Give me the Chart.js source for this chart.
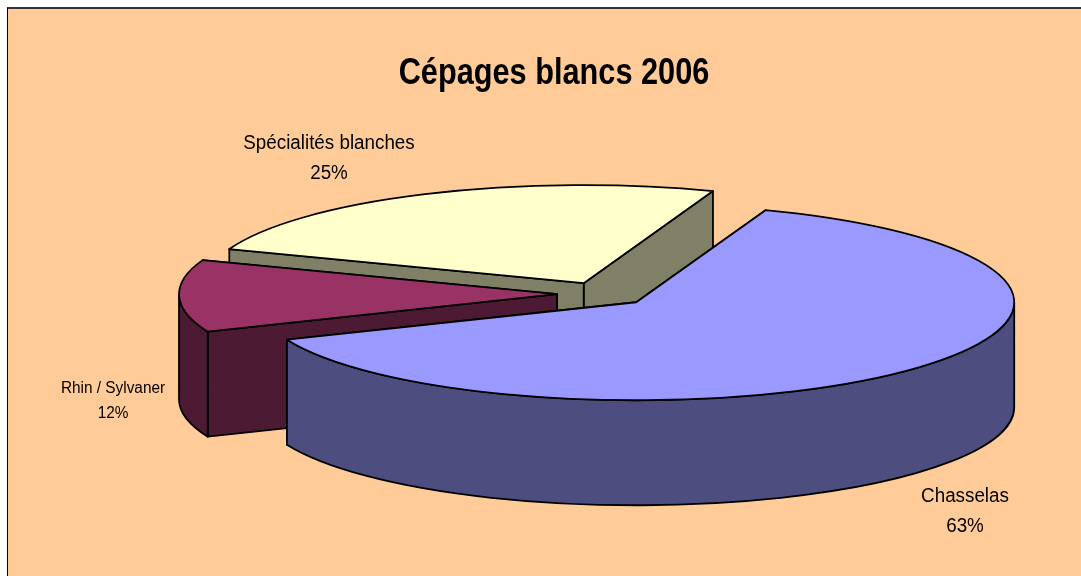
<!DOCTYPE html>
<html>
<head>
<meta charset="utf-8">
<title>Cépages blancs 2006</title>
<script src="https://cdn.jsdelivr.net/npm/chart.js@4"></script>
<style>
  html, body { margin: 0; padding: 0; background: #fff; overflow: hidden; }
  #frame {
    position: absolute; left: 7px; top: 7px; right: 0; bottom: 0;
    background: #FFCC99; border-left: 1px solid #000; border-top: 2px solid #333;
  }
  #wrap { position: absolute; left: 0; top: 0; width: 1081px; height: 576px; }
</style>
</head>
<body>
<div id="frame"></div>
<div id="wrap"><canvas id="myChart" width="1081" height="576"></canvas></div>
<script>
const categories = ["Chasselas", "Rhin / Sylvaner", "Spécialités blanches"];
// labels in the picture are rounded, slice sizes read a little finer from the edges
const shares = [63.2, 11.9, 24.9];
const topColors = ["#9999FF", "#993366", "#FFFFCC"];
const wallColors = ["#4D4D80", "#4D1A33", "#808066"];
const chartTitle = "Cépages blancs 2006";

// where the flattened pie sits in the picture
const pie = { x: 603, y: 294, rx: 378, ry: 98, depth: 105, explode: 46 };
// back to front, each slice paints over the one before
const paintOrder = [2, 1, 0];
// label anchor (centre of the first line), font size, line gap, width squeeze
const labelSpots = [
  { x: 965, y: 496, size: 20, gap: 30, squeeze: 0.94 },
  { x: 113, y: 389, size: 16, gap: 25, squeeze: 0.96 },
  { x: 329, y: 143, size: 20, gap: 30, squeeze: 0.94 }
];
const titleSpot = { x: 554, y: 74, size: 37, squeeze: 0.83 };

function sliceCentre(arc) {
  const mid = (arc.startAngle + arc.endAngle) / 2;
  return {
    x: pie.x + Math.cos(mid) * pie.explode,
    y: pie.y + Math.sin(mid) * pie.explode * pie.ry / pie.rx
  };
}

function drawWalls(ctx, arc, c, wall) {
  const a0 = arc.startAngle, a1 = arc.endAngle;
  ctx.fillStyle = wall;
  // the two cut faces, farther one first
  [a0, a1].sort((p, q) => Math.sin(p) - Math.sin(q)).forEach(a => {
    const ex = c.x + Math.cos(a) * pie.rx, ey = c.y + Math.sin(a) * pie.ry;
    ctx.beginPath();
    ctx.moveTo(c.x, c.y);
    ctx.lineTo(ex, ey);
    ctx.lineTo(ex, ey + pie.depth);
    ctx.lineTo(c.x, c.y + pie.depth);
    ctx.closePath();
    ctx.fill();
    ctx.stroke();
  });
  // rim, only the part facing the viewer
  const from = Math.max(a0, 0), to = Math.min(a1, Math.PI);
  if (to > from) {
    ctx.beginPath();
    ctx.ellipse(c.x, c.y, pie.rx, pie.ry, 0, from, to);
    ctx.ellipse(c.x, c.y + pie.depth, pie.rx, pie.ry, 0, to, from, true);
    ctx.closePath();
    ctx.fill();
    ctx.stroke();
  }
}

const pie3d = {
  id: "pie3d",
  beforeDatasetDraw(chart) {
    const ctx = chart.ctx;
    const arcs = chart.getDatasetMeta(0).data;
    paintOrder.forEach(i => {
      const arc = arcs[i];
      const c = sliceCentre(arc);
      ctx.save();
      ctx.strokeStyle = "#000";
      ctx.lineWidth = 1.8;
      ctx.lineJoin = "round";
      drawWalls(ctx, arc, c, wallColors[i]);
      // top face is the library's own arc, flattened
      ctx.save();
      ctx.translate(c.x, c.y);
      ctx.scale(pie.rx / arc.outerRadius, pie.ry / arc.outerRadius);
      ctx.translate(-arc.x, -arc.y);
      arc.draw(ctx);
      ctx.restore();
      ctx.beginPath();
      ctx.moveTo(c.x, c.y);
      ctx.ellipse(c.x, c.y, pie.rx, pie.ry, 0, arc.startAngle, arc.endAngle);
      ctx.closePath();
      ctx.stroke();
      ctx.restore();
    });
    return false; // slices are done, skip the normal draw
  },
  afterDraw(chart) {
    const ctx = chart.ctx;
    ctx.save();
    ctx.fillStyle = "#000";
    ctx.textAlign = "center";
    ctx.textBaseline = "middle";
    categories.forEach((name, i) => {
      const s = labelSpots[i];
      ctx.save();
      ctx.translate(s.x, s.y);
      ctx.scale(s.squeeze, 1);
      ctx.font = s.size + "px 'Liberation Sans'";
      ctx.fillText(name, 0, 0);
      ctx.fillText(Math.round(shares[i]) + "%", 0, s.gap);
      ctx.restore();
    });
    // title plugin can't squeeze the text, so it goes here too
    ctx.translate(titleSpot.x, titleSpot.y);
    ctx.scale(titleSpot.squeeze, 1);
    ctx.font = "bold " + titleSpot.size + "px 'Liberation Sans'";
    ctx.fillText(chartTitle, 0, 0);
    ctx.restore();
  }
};

new Chart(document.getElementById("myChart"), {
  type: "pie",
  data: {
    labels: categories,
    datasets: [{
      data: shares,
      backgroundColor: topColors,
      borderWidth: 0
    }]
  },
  options: {
    responsive: false,
    animation: false,
    rotation: 20,
    plugins: {
      legend: { display: false },
      tooltip: { enabled: false },
      title: { display: false }
    }
  },
  plugins: [pie3d]
});
</script>
</body>
</html>
